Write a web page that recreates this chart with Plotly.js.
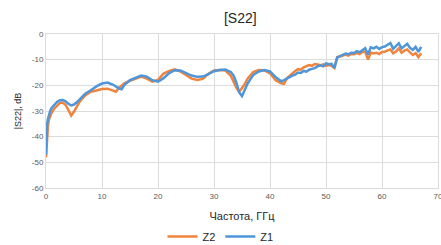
<!DOCTYPE html>
<html>
<head>
<meta charset="utf-8">
<script src="https://cdn.plot.ly/plotly-3.0.1.min.js"></script>
<style>html,body{margin:0;padding:0;background:#fff;}#chart{width:441px;height:245px;}</style>
</head>
<body>
<div id="chart"></div>
<script>
const freq = [0, 0.1, 0.2, 0.35, 0.5, 0.75, 1, 1.5, 2, 2.5, 3, 3.5, 4, 4.5, 5, 5.5, 6, 7, 8, 9, 10, 11, 12, 12.5, 13, 13.5, 14, 15, 16, 17, 18, 19, 20, 21, 22, 23, 24, 25, 26, 27, 28, 29, 30, 31, 32, 33, 33.5, 34, 34.5, 35, 35.5, 36, 37, 38, 39, 40, 41, 42, 42.5, 43, 43.5, 44, 44.5, 45, 45.5, 46, 46.5, 47, 47.5, 48, 48.5, 49, 49.5, 50, 50.5, 51, 51.5, 52, 52.5, 53, 53.5, 54, 54.5, 55, 55.5, 56, 56.5, 57, 57.5, 58, 58.5, 59, 59.5, 60, 60.5, 61, 61.5, 62, 62.5, 63, 63.5, 64, 64.5, 65, 65.5, 66, 66.5, 67];

const z1 = [-47, -40, -35, -33, -31.6, -30, -28.8, -27.5, -26.4, -25.8, -25.7, -26.2, -27.2, -27.8, -27.5, -26.6, -25.5, -23.3, -21.9, -20.4, -19.3, -18.9, -19.8, -20.6, -21.2, -21.5, -19.8, -18, -17, -16.2, -16.6, -18, -18.6, -17.2, -15.2, -14.1, -14.2, -15.1, -16.2, -16.7, -16.6, -15.6, -14.5, -14, -13.8, -14.8, -16.2, -19, -22.8, -24.2, -21.8, -19.3, -16, -14.6, -14, -14.6, -16.8, -18.4, -18, -17.3, -16.8, -16.2, -15.8, -15, -15.2, -14.4, -14.7, -13.9, -13.6, -13.3, -12.6, -12.2, -12.6, -11.5, -11.8, -11.6, -13.3, -9.2, -8.6, -8.1, -7.6, -7.9, -7.3, -7.4, -6.7, -7.1, -6.2, -5.5, -8.0, -5.2, -5.6, -5.0, -5.8, -5.1, -4.9, -4.2, -3.5, -5.8, -4.6, -3.6, -5.6, -4.5, -3.8, -5.4, -6.2, -5.0, -7.0, -5.0];

const z2 = [-48, -44, -39, -36, -33.5, -32, -30.7, -29, -27.7, -26.8, -26.8, -27.6, -29.6, -31.8, -30.2, -28, -26.4, -23.9, -22.5, -22, -21.4, -21.3, -22, -22.5, -21, -20, -19.2, -18.2, -17.3, -16.6, -17.4, -18.6, -17.9, -15.4, -14.4, -13.8, -14.6, -16, -17.4, -17.9, -17.5, -15.5, -14.2, -14, -14.2, -16.3, -18.5, -21, -22.5, -21, -19.5, -17.4, -14.8, -14, -14.2, -15.3, -18, -19.2, -19.4, -17.3, -16.2, -15.3, -14.4, -13.7, -13.9, -13, -12.7, -12.1, -12.4, -11.7, -11.9, -12.2, -11.8, -12.4, -12.1, -12.4, -13.2, -9.0, -8.8, -8.4, -8.0, -8.4, -7.8, -7.9, -7.4, -7.8, -7.0, -6.9, -10.0, -7.2, -7.6, -7.3, -7.8, -7.0, -6.9, -6.4, -6.0, -7.5, -6.8, -5.6, -7.3, -6.5, -6.0, -7.2, -8.2, -7.5, -9.0, -7.5];

const xTicks = [0, 10, 20, 30, 40, 50, 60, 70];
const yTicks = [0, -10, -20, -30, -40, -50, -60];
const yTickText = ["0", "-10", "-20", "-30", "-40", "-50", "-60"];
const seriesNames = ["Z2", "Z1"];
const chartTitle = "[S22]";
const xTitle = "Частота, ГГц";
const yTitle = "|S22|, dB";

const font = "Liberation Sans, Arial, sans-serif";

const traces = [
  {x: freq, y: z2, name: seriesNames[0], type: "scatter", mode: "lines",
   line: {color: "#F0843C", width: 2.5, shape: "linear"}},
  {x: freq, y: z1, name: seriesNames[1], type: "scatter", mode: "lines",
   line: {color: "#4E95D9", width: 2.5, shape: "linear"}}
];

const layout = {
  width: 441, height: 245,
  margin: {l: 46, r: 3, t: 34, b: 57},
  paper_bgcolor: "#fff", plot_bgcolor: "#fff",
  font: {family: font, color: "#404040"},
  title: {text: chartTitle, font: {family: font, size: 14, color: "#262626"},
          x: 0.545, xanchor: "center", y: 0.925, yanchor: "middle"},
  xaxis: {
    range: [0, 70], tickvals: xTicks, ticktext: xTicks.map(String),
    showgrid: true, gridcolor: "#dcdcdc", gridwidth: 1, zeroline: false,
    showline: true, mirror: true, linecolor: "#dcdcdc", ticks: "",
    ticklabeloverflow: "allow",
    tickfont: {family: font, size: 8, color: "#595959"},
    title: {text: xTitle, font: {family: font, size: 11, color: "#262626"}, standoff: 12}
  },
  yaxis: {
    range: [-60, 0], tickvals: yTicks, ticktext: yTickText,
    showgrid: true, gridcolor: "#dcdcdc", gridwidth: 1, zeroline: false,
    showline: true, mirror: true, linecolor: "#dcdcdc", ticks: "",
    tickfont: {family: font, size: 8, color: "#595959"},
    title: {text: yTitle, font: {family: font, size: 9, color: "#262626"}, standoff: 8}
  },
  showlegend: true,
  legend: {orientation: "h", x: 0.5, xanchor: "center", xref: "container",
           y: 0.035, yanchor: "middle", yref: "container",
           font: {family: font, size: 11, color: "#262626"}, bgcolor: "rgba(0,0,0,0)"}
};

Plotly.newPlot("chart", traces, layout, {displayModeBar: false, staticPlot: true});
</script>
</body>
</html>
